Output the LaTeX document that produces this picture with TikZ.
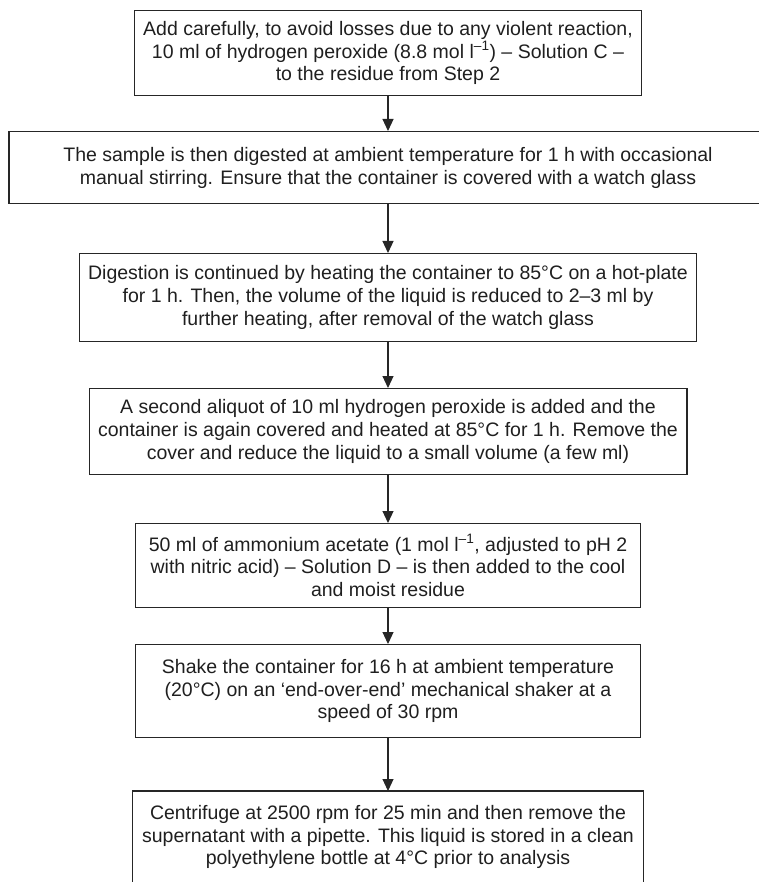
\documentclass[tikz,border=0pt]{standalone}
\usepackage{fontspec}
\setmainfont{Liberation Sans}
\usetikzlibrary{arrows.meta}
\begin{document}
\begin{tikzpicture}[
  stepbox/.style={draw=black!85, line width=1.2pt, align=center, inner xsep=9pt, inner ysep=6pt,
    font=\fontsize{19.5}{22.8}\selectfont, text=black!88, anchor=north},
  flow/.style={draw=black!85, line width=1.1pt, -{Triangle[length=12pt,width=11pt]}}
]
\useasboundingbox (0,0) rectangle (758pt,-882pt);
\node[stepbox, minimum height=85pt] (b1) at (388pt,-10pt)
  {Add carefully, to avoid losses due to any violent reaction,\\
   10 ml of hydrogen peroxide (8.8 mol l\textsuperscript{–1}) – Solution C –\\
   to the residue from Step 2};
\node[stepbox, minimum height=72pt, minimum width=758pt] (b2) at (388pt,-131pt)
  {The sample is then digested at ambient temperature for 1 h with occasional\\
   manual stirring. Ensure that the container is covered with a watch glass};
\node[stepbox, minimum height=88pt] (b3) at (388pt,-253pt)
  {Digestion is continued by heating the container to 85°C on a hot-plate\\
   for 1 h. Then, the volume of the liquid is reduced to 2–3 ml by\\
   further heating, after removal of the watch glass};
\node[stepbox, minimum height=86pt] (b4) at (388pt,-388pt)
  {A second aliquot of 10 ml hydrogen peroxide is added and the\\
   container is again covered and heated at 85°C for 1 h. Remove the\\
   cover and reduce the liquid to a small volume (a few ml)};
\node[stepbox, minimum height=84pt, minimum width=505pt] (b5) at (388pt,-523pt)
  {50 ml of ammonium acetate (1 mol l\textsuperscript{–1}, adjusted to pH 2\\
   with nitric acid) – Solution D – is then added to the cool\\
   and moist residue};
\node[stepbox, minimum height=93pt, minimum width=505pt] (b6) at (388pt,-644pt)
  {Shake the container for 16 h at ambient temperature\\
   (20°C) on an ‘end-over-end’ mechanical shaker at a\\
   speed of 30 rpm};
\node[stepbox, draw=none, minimum height=91pt, minimum width=505pt] (b7) at (388pt,-791pt)
  {Centrifuge at 2500 rpm for 25 min and then remove the\\
   supernatant with a pipette. This liquid is stored in a clean\\
   polyethylene bottle at 4°C prior to analysis};
\draw[draw=black!85, line width=1.2pt] (b7.south west) -- (b7.north west) -- (b7.north east) -- (b7.south east);
\draw[flow] (b1.south) -- (b2.north);
\draw[flow] (b2.south) -- (b3.north);
\draw[flow] (b3.south) -- (b4.north);
\draw[flow] (b4.south) -- (b5.north);
\draw[flow] (b5.south) -- (b6.north);
\draw[flow] (b6.south) -- (b7.north);
\end{tikzpicture}
\end{document}
